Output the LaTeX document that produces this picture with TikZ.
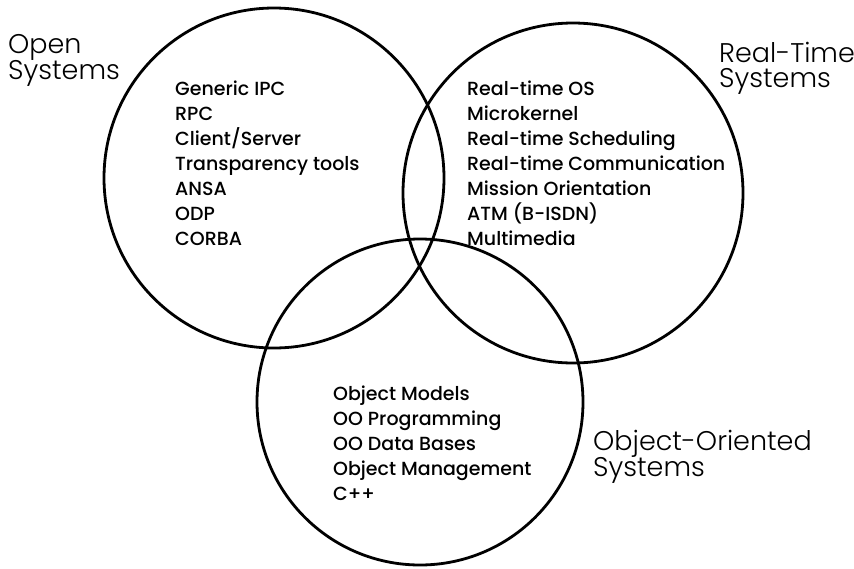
\documentclass[tikz,border=0pt]{standalone}
\usepackage{fontspec}
\setmainfont{Poppins}
\newfontfamily\titlefont{Poppins Light}
\newfontfamily\itemfont{Poppins Medium}
\usetikzlibrary{shapes.geometric}
\begin{document}
\begin{tikzpicture}[x=1pt,y=-1pt,
  venn/.style={draw=black, line width=2.8pt, circle, inner sep=0pt},
  heading/.style={font=\titlefont\fontsize{27}{26}\selectfont, anchor=base west,
    inner sep=0pt, text height=19pt, text depth=3pt},
  entry/.style={font=\itemfont\fontsize{19}{25}\selectfont, anchor=base west, inner sep=0pt}]
\fill[white] (0,0) rectangle (854,568);
\useasboundingbox (0,0) rectangle (854,568);

% the three overlapping sets
\node[venn, minimum size=340pt] (open) at (274,178) {};
\node[venn, minimum size=340pt] (rt) at (573,193) {};
\node[venn, minimum size=326pt] (oo) at (420,402) {};

% set names
\node[heading] (openlbl) at (8,53) {Open};
\node[heading] (openlbl2) at (8,79) {Systems};
\node[heading] (rtlbl) at (719,62) {Real-Time};
\node[heading] (rtlbl2) at (719,87) {Systems};
\node[heading] (oolbl) at (593,450) {Object-Oriented};
\node[heading] (oolbl2) at (593,476) {Systems};

% contents of each set
\foreach \t [count=\i] in {Generic IPC, RPC, Client/Server, Transparency tools, ANSA, ODP, CORBA}
  \node[entry] (os\i) at (175,{95+25*(\i-1)}) {\t};
\foreach \t [count=\i] in {Real-time OS, Microkernel, Real-time Scheduling, Real-time Communication, Mission Orientation, ATM (B-ISDN), Multimedia}
  \node[entry] (rs\i) at (467,{95+25*(\i-1)}) {\t};
\foreach \t [count=\i] in {Object Models, OO Programming, OO Data Bases, Object Management, C++}
  \node[entry] (ob\i) at (333,{400+25*(\i-1)}) {\t};
\end{tikzpicture}
\end{document}
